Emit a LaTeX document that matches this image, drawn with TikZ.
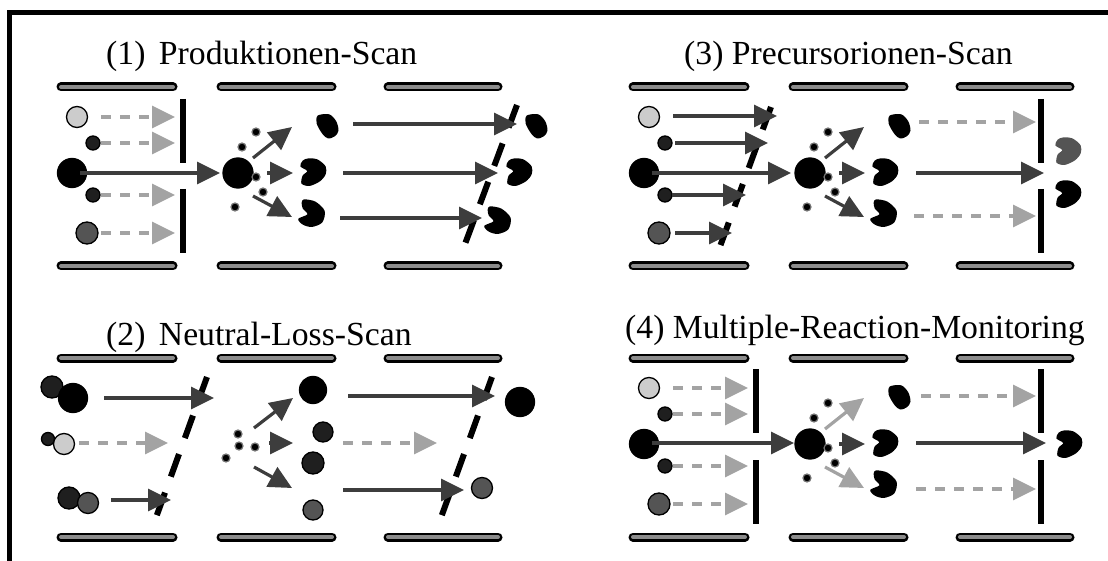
\documentclass[tikz,border=0pt]{standalone}
\usepackage{fontspec}
\setmainfont{Liberation Serif}
\usetikzlibrary{arrows.meta}

\definecolor{ionlight}{gray}{0.80}
\definecolor{iondark}{gray}{0.12}
\definecolor{iongray}{gray}{0.33}
\definecolor{beamdark}{gray}{0.24}
\definecolor{beamlight}{gray}{0.64}
\definecolor{rodgray}{gray}{0.55}

% fragment ions, irregular blobs
\tikzset{
  fragA/.pic={\fill[pic actions, scale=1.15] plot[smooth cycle,tension=0.5] coordinates
    {(-8,-10) (2,-11) (8,-5) (10,3) (7,8) (1,10) (-4,6) (-9,-3)};},
  fragB/.pic={\fill[pic actions, scale=1.15] plot[smooth cycle,tension=0.5] coordinates
    {(-4,-11) (4,-10) (11,-4) (11,3) (6,9) (-3,13) (-10,11) (-9,4) (-5,0) (-11,-4) (-9,-9)};},
  fragC/.pic={\fill[pic actions, scale=1.15] plot[smooth cycle,tension=0.5] coordinates
    {(-7,-11) (3,-9) (11,-1) (9,9) (0,13) (-8,11) (-12,6) (-4,2) (-8,-3) (-9,-8)};}
}

% the three rod pairs of one triple quadrupole
\newcommand{\rods}{
  \foreach \a/\b in {61/173, 221/332, 388/498}
    \foreach \y in {87,266} {
      \draw[line width=9pt, line cap=round] (\a,\y) -- (\b,\y);
      \draw[rodgray, line width=4pt, line cap=round] (\a,\y) -- (\b,\y);
    }
}

% precursor ions in front of Q1
\newcommand{\precursors}{
  \foreach \x/\y/\r/\c in {77/117/10.5/ionlight, 93/143/7/iondark, 72/173/14.5/black,
                           93/195/7/iondark, 87/233/11/iongray}
    \filldraw[ion, fill=\c] (\x,\y) circle[radius=\r pt];
}

% collision cell with fragmentation, #1 = style of the side arrows
\newcommand{\cell}[1]{
  \filldraw[ion] (238,173) circle[radius=15pt];
  \foreach \x/\y in {256/132, 242/147, 256/177, 263/192, 235/207}
    \filldraw[dot] (\x,\y) circle[radius=4pt];
  \draw[#1] (253,158) -- (292,127);
  \draw[beam] (267,173) -- (293,173);
  \draw[#1] (253,196) -- (292,217);
  \pic at (327,127) {fragA};
  \pic at (313,171) {fragB};
  \pic at (312,212) {fragC};
}

\begin{document}
\begin{tikzpicture}[x=1pt,y=-1pt,
  every node/.style={inner sep=0pt, font=\fontsize{33.7}{40}\selectfont},
  ion/.style={draw=black, line width=1.3pt},
  dot/.style={fill=black, draw=black!55, line width=1.2pt},
  beam/.style={draw=beamdark, line width=3.2pt, -{Triangle[length=23pt,width=22pt]}},
  pale/.style={draw=beamlight, line width=3.2pt, -{Triangle[length=23pt,width=22pt]}},
  lost/.style={pale, dash pattern=on 10pt off 9pt},
  slit/.style={line width=6pt},
  scanslit/.style={line width=6pt, dash pattern=on 24pt off 17pt}]

\useasboundingbox (0,0) rectangle (1108,561);
\clip (0,0) rectangle (1108,561);
\draw[line width=5pt] (9.5,12.5) rectangle (1200,700);

\node[anchor=base west] (title1) at (106,65) {(1)\hspace{0.4em}Produktionen-Scan};
\node[anchor=base west] (title2) at (106,345) {(2)\hspace{0.4em}Neutral-Loss-Scan};
\node[anchor=base west] (title3) at (684,65) {(3) Precursorionen-Scan};
\node[anchor=base west] (title4) at (625,338) {(4) Multiple-Reaction-Monitoring};

% (1) product ion scan
\begin{scope}
  \rods
  \draw[slit] (183,99) -- (183,163) (183,189) -- (183,253);
  \draw[scanslit] (517,105) -- (462,252);
  \precursors
  \foreach \y in {117,143,195,233}
    \draw[lost] (101,\y) -- (175,\y);
  \draw[beam] (80,173) -- (220,173);
  \cell{beam}
  \draw[beam] (353,124) -- (517,124);
  \draw[beam] (343,173) -- (498,173);
  \draw[beam] (340,218) -- (482,218);
  \pic at (536,127) {fragA};
  \pic at (519,171) {fragB};
  \pic at (498,219) {fragC};
\end{scope}

% (2) neutral loss scan
\begin{scope}[shift={(0,271)}]
  \rods
  \draw[scanslit] (207,106) -- (154,252);
  \draw[scanslit] (492,106) -- (439,252);
  \foreach \x/\y/\r/\c in {52/116/11/iondark, 73/127/14.5/black, 48/168/6.5/iondark,
                           64/173/10.5/ionlight, 69/227/11/iondark, 88/232/10.5/iongray}
    \filldraw[ion, fill=\c] (\x,\y) circle[radius=\r pt];
  \draw[beam] (104,127) -- (214,127);
  \draw[lost] (79,172) -- (168,172);
  \draw[beam] (111,229) -- (171,229);
  \foreach \x/\y in {238/163, 239/175, 255/176, 226/187}
    \filldraw[dot] (\x,\y) circle[radius=4pt];
  \draw[beam] (254,157) -- (293,127);
  \draw[beam] (269,172) -- (293,172);
  \draw[beam] (254,196) -- (292,217);
  \foreach \x/\y/\r/\c in {313/119/13.5/black, 323/161/10/iondark,
                           313/192/11/iondark, 313/239/10/iongray}
    \filldraw[ion, fill=\c] (\x,\y) circle[radius=\r pt];
  \draw[beam] (348,125) -- (495,125);
  \draw[lost] (343,172) -- (437,172);
  \draw[beam] (343,219) -- (464,219);
  \filldraw[ion] (520,131) circle[radius=14.5pt];
  \filldraw[ion, fill=iongray] (482,217) circle[radius=10.5pt];
\end{scope}

% (3) precursor ion scan
\begin{scope}[shift={(572,0)}]
  \rods
  \draw[scanslit] (199,107) -- (146,252);
  \draw[slit] (469,99) -- (469,163) (469,189) -- (469,253);
  \precursors
  \draw[beam] (101,116) -- (205,116);
  \draw[beam] (103,143) -- (196,143);
  \draw[beam] (80,173) -- (219,173);
  \draw[beam] (100,195) -- (174,195);
  \draw[beam] (103,233) -- (160,233);
  \cell{beam}
  \draw[lost] (347,122) -- (464,122);
  \draw[beam] (344,173) -- (472,173);
  \draw[lost] (342,216) -- (464,216);
  \pic[fill=iongray] at (496,150) {fragB};
  \pic at (496,193) {fragB};
\end{scope}

% (4) multiple reaction monitoring
\begin{scope}[shift={(572,271)}]
  \rods
  \draw[slit] (184,98) -- (184,162) (184,189) -- (184,253);
  \draw[slit] (469,98) -- (469,162) (469,189) -- (469,253);
  \precursors
  \foreach \y in {117,143,195,233}
    \draw[lost] (101,\y) -- (176,\y);
  \draw[beam] (80,172) -- (222,172);
  \cell{pale}
  \draw[lost] (349,125) -- (464,125);
  \draw[beam] (344,172) -- (474,172);
  \draw[lost] (344,218) -- (464,218);
  \pic at (497,172) {fragB};
\end{scope}

\end{tikzpicture}
\end{document}
